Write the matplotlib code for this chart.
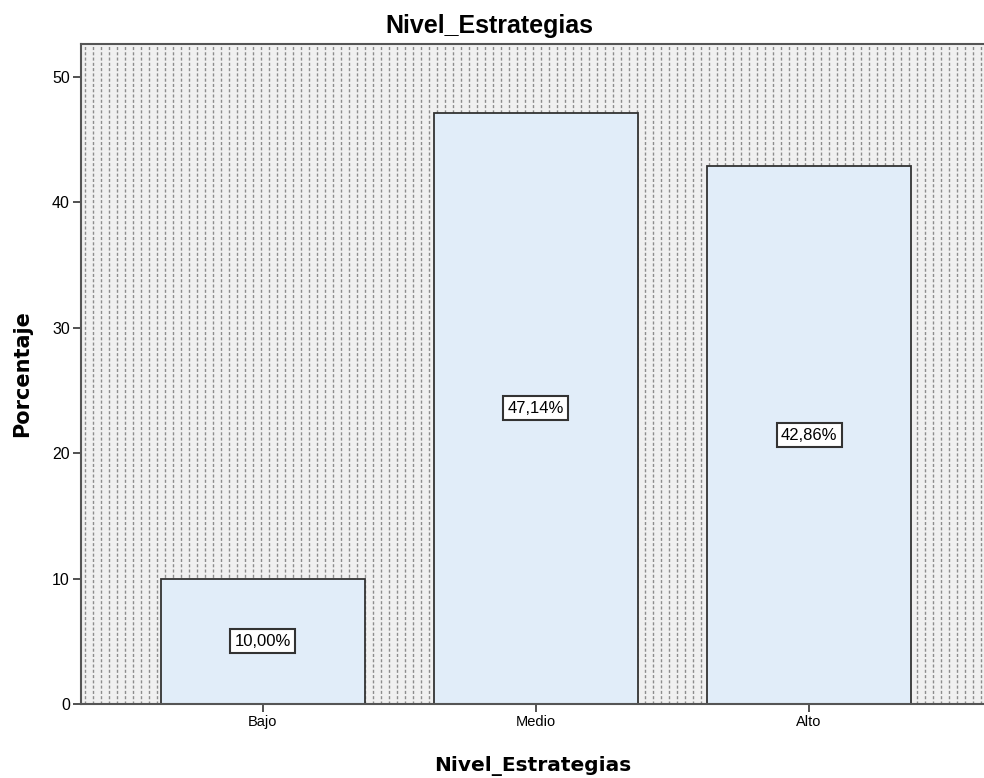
import numpy as np
import matplotlib.pyplot as plt

# porcentajes por nivel
categorias = ['Bajo', 'Medio', 'Alto']
porcentajes = [10.00, 47.14, 42.86]
etiquetas = ['10,00%', '47,14%', '42,86%']

fig = plt.figure(figsize=(9.84, 7.78), dpi=100)
ax = fig.add_axes([0.0823, 0.0951, 0.9177, 0.8483])

x = np.arange(len(categorias))
ax.set_xlim(-0.665, 2.64)
ax.set_ylim(0, 52.6)

# fondo gris con lineas punteadas verticales
ax.set_facecolor('#f0f0f0')
px = (2.64 + 0.665) / (0.9177 * 984)
for xv in np.arange(-0.665 + 4 * px, 2.64, 8 * px):
    ax.axvline(xv, color='#8c8c8c', lw=1.0, ls=(0, (2.2, 1.6)), zorder=0.5)

ax.bar(x, porcentajes, width=0.747, color='#e1edf9', edgecolor='#333333',
       linewidth=1.3, zorder=2)

for xi, v, t in zip(x, porcentajes, etiquetas):
    ax.text(xi, v / 2, t, ha='center', va='center', fontsize=12,
            family='Liberation Sans', zorder=3,
            bbox=dict(boxstyle='square,pad=0.26', fc='white', ec='#333333', lw=1.5))

ax.set_xticks(x)
ax.set_xticklabels(categorias, family='Liberation Sans', fontsize=10.5)
ax.set_yticks([0, 10, 20, 30, 40, 50])
ax.set_yticklabels(['0', '10', '20', '30', '40', '50'], family='Liberation Sans', fontsize=11.5)
ax.tick_params(axis='both', direction='out', length=6, width=1.2, color='#333333', pad=2)

for s in ['left', 'bottom', 'top']:
    ax.spines[s].set_color('#555555')
    ax.spines[s].set_linewidth(1.5)
ax.spines['right'].set_visible(False)

fig.text(0.497, 0.9576, 'Nivel_Estrategias', fontsize=18, fontweight='bold',
         family='Liberation Sans', ha='center', va='baseline')
ax.set_ylabel('Porcentaje', fontsize=15, fontweight='bold', family='DejaVu Sans', labelpad=14)
ax.set_xlabel('Nivel_Estrategias', fontsize=14.5, fontweight='bold', family='DejaVu Sans', labelpad=19)

fig.savefig('out.png', dpi=100)
